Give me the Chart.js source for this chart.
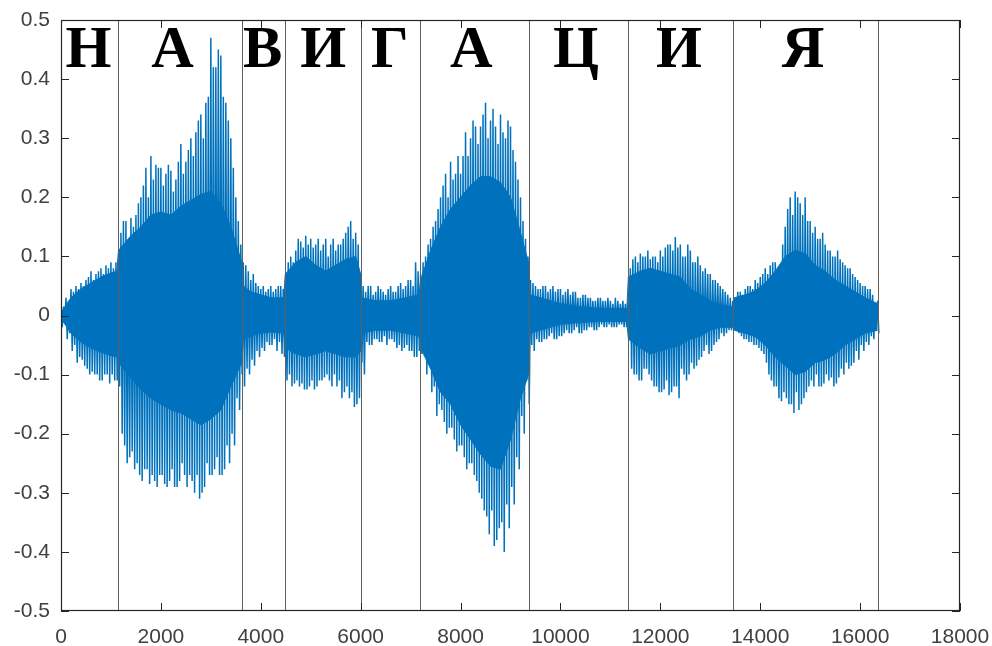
<!DOCTYPE html>
<html>
<head>
<meta charset="utf-8">
<script src="https://cdn.jsdelivr.net/npm/chart.js@4/dist/chart.umd.min.js"></script>
<style>
  html, body { margin: 0; padding: 0; background: #fff; }
  #wrap { width: 992px; height: 646px; }
</style>
</head>
<body>
<div id="wrap"><canvas id="c" width="992" height="646"></canvas></div>
<script>
// Window length of the peak readings (samples)
const step = 100;

// Positive / negative peak in the first half of each 100-sample window
const upper = [
  0.02, 0.03, 0.045, 0.05, 0.055, 0.06, 0.075, 0.07, 0.08, 0.085,
  0.09, 0.09, 0.14, 0.16, 0.165, 0.17, 0.2, 0.25, 0.27, 0.255,
  0.25, 0.24, 0.245, 0.23, 0.29, 0.26, 0.3, 0.31, 0.34, 0.36,
  0.47, 0.42, 0.44, 0.36, 0.3, 0.2, 0.12, 0.085, 0.06, 0.055,
  0.045, 0.04, 0.05, 0.045, 0.05, 0.07, 0.1, 0.11, 0.125, 0.135,
  0.13, 0.12, 0.11, 0.13, 0.12, 0.11, 0.12, 0.14, 0.16, 0.14,
  0.07, 0.04, 0.05, 0.04, 0.045, 0.035, 0.05, 0.04, 0.055, 0.05,
  0.06, 0.09, 0.07, 0.1, 0.13, 0.16, 0.2, 0.24, 0.26, 0.24,
  0.24, 0.31, 0.3, 0.32, 0.32, 0.36, 0.33, 0.32, 0.34, 0.3,
  0.32, 0.26, 0.2, 0.13, 0.06, 0.05, 0.045, 0.05, 0.045, 0.04,
  0.045, 0.04, 0.035, 0.04, 0.03, 0.035, 0.03, 0.025, 0.03, 0.025,
  0.025, 0.03, 0.02, 0.02, 0.08, 0.1, 0.105, 0.1, 0.095, 0.1,
  0.11, 0.115, 0.12, 0.133, 0.12, 0.1, 0.11, 0.09, 0.085, 0.08,
  0.07, 0.06, 0.05, 0.04, 0.03, 0.03, 0.04, 0.045, 0.05, 0.06,
  0.065, 0.08, 0.085, 0.09, 0.085, 0.15, 0.2, 0.21, 0.19, 0.2,
  0.16, 0.15, 0.13, 0.12, 0.11, 0.1, 0.095, 0.085, 0.08, 0.065,
  0.055, 0.05, 0.045, 0.02
];
const lower = [
  -0.01, -0.03, -0.05, -0.07, -0.085, -0.1, -0.1, -0.11, -0.1, -0.115,
  -0.11, -0.12, -0.22, -0.24, -0.26, -0.27, -0.26, -0.285, -0.28, -0.27,
  -0.285, -0.28, -0.29, -0.28, -0.27, -0.27, -0.3, -0.31, -0.29, -0.27,
  -0.26, -0.27, -0.26, -0.25, -0.22, -0.16, -0.12, -0.1, -0.085, -0.07,
  -0.06, -0.05, -0.04, -0.045, -0.07, -0.1, -0.115, -0.12, -0.125, -0.12,
  -0.125, -0.11, -0.105, -0.11, -0.1, -0.11, -0.13, -0.14, -0.155, -0.14,
  -0.1, -0.05, -0.04, -0.045, -0.035, -0.04, -0.045, -0.05, -0.055, -0.06,
  -0.07, -0.06, -0.05, -0.08, -0.12, -0.15, -0.18, -0.19, -0.21, -0.22,
  -0.24, -0.25, -0.27, -0.3, -0.33, -0.37, -0.39, -0.36, -0.4, -0.36,
  -0.32, -0.26, -0.2, -0.15, -0.06, -0.045, -0.04, -0.035, -0.04, -0.035,
  -0.03, -0.03, -0.025, -0.03, -0.025, -0.02, -0.025, -0.02, -0.02, -0.015,
  -0.02, -0.015, -0.02, -0.02, -0.1, -0.11, -0.09, -0.1, -0.12, -0.13,
  -0.125, -0.135, -0.12, -0.14, -0.1, -0.1, -0.09, -0.075, -0.06, -0.065,
  -0.05, -0.04, -0.035, -0.025, -0.02, -0.03, -0.04, -0.045, -0.05, -0.055,
  -0.065, -0.1, -0.12, -0.14, -0.13, -0.15, -0.165, -0.16, -0.14, -0.12,
  -0.12, -0.12, -0.115, -0.11, -0.12, -0.105, -0.1, -0.09, -0.08, -0.075,
  -0.06, -0.05, -0.04, -0.03
];

// Positive / negative peak in the second half of each window
const upperB = [
  0.015, 0.025, 0.04, 0.045, 0.05, 0.065, 0.06, 0.075, 0.07, 0.08,
  0.08, 0.07, 0.16, 0.13, 0.15, 0.19, 0.22, 0.2, 0.23, 0.25,
  0.22, 0.255, 0.21, 0.26, 0.24, 0.28, 0.27, 0.33, 0.3, 0.37,
  0.42, 0.45, 0.37, 0.33, 0.25, 0.16, 0.09, 0.075, 0.07, 0.05,
  0.05, 0.045, 0.04, 0.05, 0.045, 0.09, 0.09, 0.13, 0.115, 0.12,
  0.115, 0.13, 0.12, 0.1, 0.13, 0.12, 0.13, 0.15, 0.13, 0.12,
  0.05, 0.05, 0.035, 0.05, 0.04, 0.045, 0.04, 0.05, 0.045, 0.06,
  0.05, 0.075, 0.09, 0.12, 0.15, 0.18, 0.22, 0.2, 0.23, 0.27,
  0.27, 0.27, 0.33, 0.29, 0.34, 0.3, 0.35, 0.29, 0.31, 0.33,
  0.28, 0.23, 0.16, 0.1, 0.055, 0.045, 0.05, 0.04, 0.05, 0.045,
  0.035, 0.045, 0.04, 0.03, 0.035, 0.03, 0.025, 0.03, 0.025, 0.03,
  0.02, 0.025, 0.025, 0.015, 0.095, 0.09, 0.1, 0.11, 0.1, 0.09,
  0.1, 0.12, 0.11, 0.115, 0.1, 0.12, 0.09, 0.1, 0.075, 0.07,
  0.06, 0.055, 0.045, 0.035, 0.025, 0.04, 0.035, 0.05, 0.045, 0.055,
  0.07, 0.07, 0.09, 0.08, 0.12, 0.18, 0.17, 0.2, 0.17, 0.16,
  0.14, 0.13, 0.14, 0.11, 0.1, 0.11, 0.09, 0.08, 0.07, 0.06,
  0.05, 0.045, 0.035, 0.025
];
const lowerB = [
  -0.02, -0.04, -0.06, -0.08, -0.075, -0.09, -0.095, -0.1, -0.11, -0.1,
  -0.1, -0.11, -0.2, -0.25, -0.23, -0.25, -0.28, -0.26, -0.27, -0.29,
  -0.27, -0.29, -0.26, -0.29, -0.25, -0.29, -0.28, -0.27, -0.3, -0.25,
  -0.27, -0.24, -0.27, -0.22, -0.2, -0.14, -0.1, -0.09, -0.075, -0.06,
  -0.055, -0.045, -0.05, -0.06, -0.065, -0.11, -0.12, -0.11, -0.115, -0.125,
  -0.11, -0.12, -0.11, -0.1, -0.12, -0.12, -0.14, -0.12, -0.13, -0.15,
  -0.08, -0.045, -0.05, -0.04, -0.045, -0.05, -0.04, -0.055, -0.06, -0.05,
  -0.06, -0.07, -0.065, -0.1, -0.13, -0.17, -0.16, -0.2, -0.19, -0.23,
  -0.22, -0.26, -0.25, -0.28, -0.31, -0.34, -0.33, -0.38, -0.35, -0.32,
  -0.29, -0.24, -0.17, -0.11, -0.05, -0.04, -0.045, -0.04, -0.03, -0.04,
  -0.035, -0.025, -0.03, -0.02, -0.03, -0.025, -0.02, -0.025, -0.015, -0.02,
  -0.02, -0.02, -0.015, -0.02, -0.09, -0.1, -0.11, -0.09, -0.11, -0.12,
  -0.13, -0.11, -0.13, -0.12, -0.09, -0.11, -0.08, -0.085, -0.07, -0.05,
  -0.06, -0.045, -0.03, -0.03, -0.025, -0.025, -0.035, -0.04, -0.045, -0.05,
  -0.06, -0.08, -0.11, -0.12, -0.145, -0.14, -0.15, -0.13, -0.15, -0.13,
  -0.11, -0.1, -0.12, -0.1, -0.105, -0.115, -0.09, -0.08, -0.085, -0.06,
  -0.05, -0.045, -0.035, -0.025
];

// Dense body of the oscillation (where the trace is solid), sampled unevenly
const coreX = [
  0, 200, 400, 600, 800, 1000, 1120, 1150, 1400, 1600,
  1800, 2000, 2200, 2400, 2600, 2800, 3000, 3200, 3400, 3620,
  3650, 3800, 4000, 4200, 4460, 4490, 4700, 4900, 5100, 5300,
  5500, 5700, 5900, 6000, 6030, 6300, 6600, 6900, 7170, 7200,
  7400, 7600, 7800, 8000, 8200, 8400, 8600, 8800, 9000, 9200,
  9360, 9390, 9600, 9800, 10000, 10400, 10800, 11330, 11360, 11600,
  11800, 12000, 12200, 12400, 12600, 12800, 13000, 13200, 13450, 13480,
  13700, 13900, 14100, 14300, 14500, 14700, 14900, 15100, 15300, 15500,
  15700, 15900, 16100, 16350
];
const coreUpper = [
  0.005, 0.03, 0.045, 0.055, 0.065, 0.072, 0.075, 0.11, 0.135, 0.15,
  0.17, 0.175, 0.17, 0.185, 0.195, 0.205, 0.21, 0.19, 0.15, 0.09,
  0.05, 0.04, 0.035, 0.03, 0.03, 0.07, 0.09, 0.1, 0.085, 0.075,
  0.085, 0.095, 0.1, 0.07, 0.03, 0.025, 0.025, 0.03, 0.035, 0.06,
  0.11, 0.15, 0.18, 0.2, 0.22, 0.235, 0.235, 0.225, 0.2, 0.14,
  0.09, 0.035, 0.03, 0.025, 0.02, 0.015, 0.012, 0.012, 0.065, 0.075,
  0.08, 0.075, 0.07, 0.065, 0.045, 0.035, 0.025, 0.018, 0.015, 0.03,
  0.035, 0.042, 0.055, 0.075, 0.1, 0.11, 0.105, 0.085, 0.075, 0.06,
  0.05, 0.04, 0.03, 0.02
];
const coreLower = [
  -0.005, -0.03, -0.045, -0.055, -0.062, -0.068, -0.07, -0.08, -0.105, -0.125,
  -0.14, -0.15, -0.16, -0.165, -0.175, -0.185, -0.175, -0.16, -0.12, -0.08,
  -0.04, -0.035, -0.03, -0.028, -0.03, -0.055, -0.065, -0.07, -0.065, -0.06,
  -0.065, -0.07, -0.07, -0.06, -0.03, -0.025, -0.025, -0.03, -0.035, -0.055,
  -0.09, -0.13, -0.15, -0.185, -0.21, -0.235, -0.255, -0.26, -0.21, -0.14,
  -0.1, -0.03, -0.025, -0.02, -0.015, -0.012, -0.01, -0.01, -0.04, -0.055,
  -0.065, -0.06, -0.055, -0.05, -0.04, -0.035, -0.025, -0.02, -0.02, -0.025,
  -0.03, -0.036, -0.05, -0.07, -0.085, -0.1, -0.095, -0.08, -0.075, -0.065,
  -0.05, -0.04, -0.03, -0.025
];

// Segment boundaries (sample index) and the letter spoken in each segment
const boundaries = [1136, 3634, 4475, 6010, 7181, 9372, 11343, 13460, 16366];
const letters = ['Н', 'А', 'В', 'И', 'Г', 'А', 'Ц', 'И', 'Я'];
const letterPos = [551, 2234, 4038, 5250, 6583, 8216, 10310, 12375, 14860];
const letterBaseline = 0.42;

// Axis ticks
const xTicks = [0, 2000, 4000, 6000, 8000, 10000, 12000, 14000, 16000, 18000];
const yTicks = [-0.5, -0.4, -0.3, -0.2, -0.1, 0, 0.1, 0.2, 0.3, 0.4, 0.5];

// Zig-zag trace through the peaks, four turning points per window
const points = [];
upper.forEach((u, i) => {
  const x0 = i * step;
  points.push({ x: x0, y: u });
  points.push({ x: x0 + step / 4, y: lowerB[i] });
  points.push({ x: x0 + step / 2, y: upperB[i] });
  points.push({ x: x0 + 3 * step / 4, y: lower[i] });
});
const coreTop = coreX.map((x, i) => ({ x, y: coreUpper[i] }));
const coreBottom = coreX.map((x, i) => ({ x, y: coreLower[i] }));

const waveColor = '#0072BD';
const axisColor = '#262626';
const labelFont = { family: '"Liberation Sans", Arial, sans-serif', size: 21 };

const overlay = {
  id: 'overlay',
  afterDatasetsDraw(chart) {
    const { ctx, chartArea: a, scales: { x, y } } = chart;
    ctx.save();
    // segment boundaries
    ctx.strokeStyle = '#5f5f5f';
    ctx.lineWidth = 1;
    boundaries.forEach(b => {
      const px = Math.round(x.getPixelForValue(b)) + 0.5;
      ctx.beginPath();
      ctx.moveTo(px, a.top);
      ctx.lineTo(px, a.bottom);
      ctx.stroke();
    });
    // letters
    ctx.fillStyle = '#000';
    ctx.font = 'bold 59px "Liberation Serif", "Times New Roman", serif';
    ctx.textAlign = 'center';
    ctx.textBaseline = 'alphabetic';
    const by = y.getPixelForValue(letterBaseline);
    letters.forEach((l, i) => {
      ctx.fillText(l, x.getPixelForValue(letterPos[i]), by);
    });
    // axes box
    ctx.strokeStyle = axisColor;
    ctx.lineWidth = 1.2;
    ctx.strokeRect(a.left + 0.5, a.top + 0.5, a.right - a.left - 1, a.bottom - a.top - 1);
    // inward tick marks on all four sides
    const tl = 8;
    ctx.lineWidth = 1;
    ctx.beginPath();
    xTicks.forEach(v => {
      const px = Math.round(x.getPixelForValue(v)) + 0.5;
      ctx.moveTo(px, a.bottom); ctx.lineTo(px, a.bottom - tl);
      ctx.moveTo(px, a.top); ctx.lineTo(px, a.top + tl);
    });
    yTicks.forEach(v => {
      const py = Math.round(y.getPixelForValue(v)) + 0.5;
      ctx.moveTo(a.left, py); ctx.lineTo(a.left + tl, py);
      ctx.moveTo(a.right, py); ctx.lineTo(a.right - tl, py);
    });
    ctx.stroke();
    ctx.restore();
  }
};

new Chart(document.getElementById('c'), {
  type: 'line',
  data: {
    datasets: [
      {
        data: points,
        borderColor: waveColor,
        borderWidth: 1.5,
        pointRadius: 0,
        tension: 0,
        fill: false
      },
      {
        data: coreTop,
        borderColor: waveColor,
        backgroundColor: waveColor,
        borderWidth: 1,
        pointRadius: 0,
        tension: 0,
        fill: '+1'
      },
      {
        data: coreBottom,
        borderColor: waveColor,
        borderWidth: 1,
        pointRadius: 0,
        tension: 0,
        fill: false
      }
    ]
  },
  options: {
    responsive: false,
    animation: false,
    events: [],
    layout: { padding: { top: 20, right: 32, left: 0, bottom: 0 } },
    plugins: { legend: { display: false }, tooltip: { enabled: false } },
    scales: {
      x: {
        type: 'linear',
        min: 0, max: 18000,
        afterBuildTicks(s) { s.ticks = xTicks.map(v => ({ value: v })); },
        afterFit(s) { s.height = 35; s.paddingLeft = 0; s.paddingRight = 0; },
        grid: { display: false, drawTicks: false },
        border: { display: false },
        ticks: { font: labelFont, color: '#404040', padding: 14, maxRotation: 0, autoSkip: false,
                 callback: v => String(v) }
      },
      y: {
        type: 'linear',
        min: -0.5, max: 0.5,
        afterBuildTicks(s) { s.ticks = yTicks.map(v => ({ value: v })); },
        afterFit(s) { s.width = 61; s.paddingTop = 0; s.paddingBottom = 0; },
        grid: { display: false, drawTicks: false },
        border: { display: false },
        ticks: { font: labelFont, color: '#404040', padding: 11, autoSkip: false,
                 callback: v => String(Number(v.toFixed(1))) }
      }
    }
  },
  plugins: [overlay]
});
</script>
</body>
</html>
